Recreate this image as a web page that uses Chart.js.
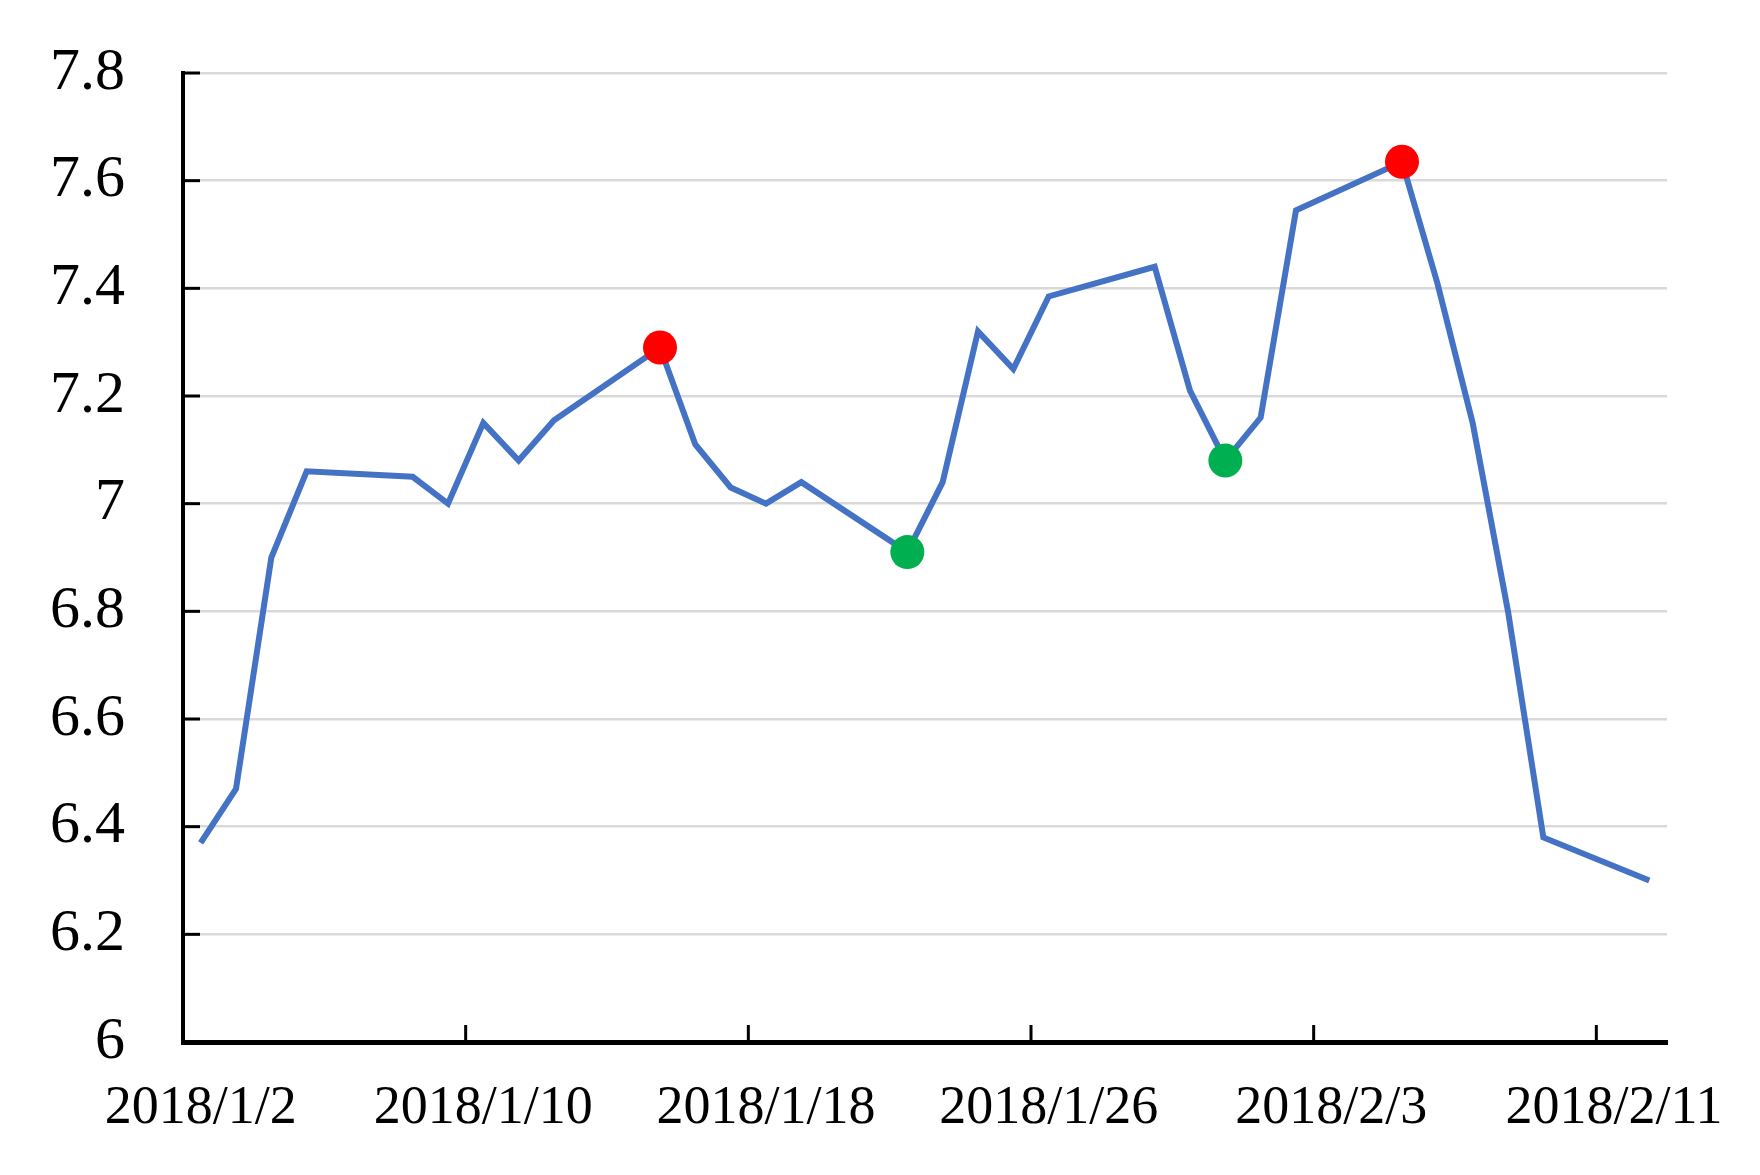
<!DOCTYPE html>
<html>
<head>
<meta charset="utf-8">
<script src="https://cdn.jsdelivr.net/npm/chart.js@4.4.1/dist/chart.umd.min.js"></script>
<style>
  html, body { margin: 0; padding: 0; background: #fff; }
</style>
</head>
<body>
<canvas id="chart" width="1760" height="1175"></canvas>
<script>
/* Daily series, 2018/1/2 - 2018/2/12, with highs (red) and lows (green) marked */

var startDate = '2018/1/2';
var dayCount = 42;

var dates = [
  '2018/1/2', '2018/1/3', '2018/1/4', '2018/1/5',
  '2018/1/8', '2018/1/9', '2018/1/10', '2018/1/11', '2018/1/12',
  '2018/1/15', '2018/1/16', '2018/1/17', '2018/1/18', '2018/1/19',
  '2018/1/22', '2018/1/23', '2018/1/24', '2018/1/25', '2018/1/26',
  '2018/1/29', '2018/1/30', '2018/1/31', '2018/2/1', '2018/2/2',
  '2018/2/5', '2018/2/6', '2018/2/7', '2018/2/8', '2018/2/9',
  '2018/2/12'
];
var values = [
  6.37, 6.47, 6.90, 7.06,
  7.05, 7.00, 7.15, 7.08, 7.155,
  7.29, 7.11, 7.03, 7.00, 7.04,
  6.91, 7.04, 7.32, 7.25, 7.385,
  7.44, 7.21, 7.08, 7.16, 7.545,
  7.635, 7.41, 7.15, 6.80, 6.38,
  6.30
];
var highDates = ['2018/1/15', '2018/2/5'];
var lowDates = ['2018/1/22', '2018/1/31'];

var yMin = 6;
var yMax = 7.8;
var yStep = 0.2;
var xStep = 8;

function parseDay(s) {
  var p = s.split('/');
  return Date.UTC(+p[0], +p[1] - 1, +p[2]);
}

function dayIndex(s) {
  return Math.round((parseDay(s) - parseDay(startDate)) / 86400000);
}

function dayLabel(i) {
  var d = new Date(parseDay(startDate) + i * 86400000);
  return d.getUTCFullYear() + '/' + (d.getUTCMonth() + 1) + '/' + d.getUTCDate();
}

var points = dates.map(function (d, i) {
  return { x: dayIndex(d) + 0.5, y: values[i] };
});
var pointColors = dates.map(function (d) {
  if (highDates.indexOf(d) >= 0) return '#ff0000';
  if (lowDates.indexOf(d) >= 0) return '#00b050';
  return '#4472c4';
});
var pointSizes = dates.map(function (d) {
  return highDates.indexOf(d) >= 0 || lowDates.indexOf(d) >= 0 ? 17 : 0;
});

// tick marks that point into the plot, like the original
var innerTicks = {
  id: 'innerTicks',
  beforeDatasetsDraw: function (chart) {
    var ctx = chart.ctx;
    var xs = chart.scales.x;
    var ys = chart.scales.y;
    var area = chart.chartArea;
    ctx.save();
    ctx.strokeStyle = '#000';
    ctx.lineWidth = 3;
    ys.ticks.forEach(function (t) {
      var py = ys.getPixelForValue(t.value);
      ctx.beginPath();
      ctx.moveTo(area.left, py);
      ctx.lineTo(area.left + 17, py);
      ctx.stroke();
    });
    xs.ticks.forEach(function (t) {
      var px = xs.getPixelForValue(t.value);
      ctx.beginPath();
      ctx.moveTo(px, area.bottom);
      ctx.lineTo(px, area.bottom - 17);
      ctx.stroke();
    });
    ctx.restore();
  }
};

Chart.defaults.font.family = "'Liberation Serif', 'Times New Roman', serif";
Chart.defaults.color = '#000';

new Chart(document.getElementById('chart'), {
  type: 'line',
  data: {
    datasets: [
      {
        data: points,
        borderColor: '#4472c4',
        borderWidth: 6,
        tension: 0,
        pointRadius: pointSizes,
        pointBackgroundColor: pointColors,
        pointBorderWidth: 0,
        pointHoverRadius: pointSizes
      }
    ]
  },
  options: {
    responsive: false,
    animation: false,
    layout: { padding: { top: 73, right: 93, left: 0, bottom: 0 } },
    plugins: { legend: { display: false }, tooltip: { enabled: false } },
    scales: {
      x: {
        type: 'linear',
        min: 0,
        max: dayCount,
        afterFit: function (s) {
          s.height = 133;
          s.paddingLeft = 0;
          s.paddingRight = 0;
        },
        grid: { display: false },
        border: { display: true, color: '#000', width: 5 },
        ticks: {
          stepSize: xStep,
          includeBounds: false,
          autoSkip: false,
          maxRotation: 0,
          labelOffset: 17.7,
          padding: 26,
          font: { size: 54 },
          callback: function (v) { return v % xStep === 0 ? dayLabel(v) : ''; }
        }
      },
      y: {
        min: yMin,
        max: yMax,
        afterFit: function (s) {
          s.width = 183;
          s.paddingTop = 0;
          s.paddingBottom = 0;
        },
        grid: { color: '#d9d9d9', lineWidth: 2.5, drawTicks: false },
        border: { display: true, color: '#000', width: 4 },
        ticks: {
          stepSize: yStep,
          padding: 58,
          font: { size: 60 },
          callback: function (v) { return String(Math.round(v * 10) / 10); }
        }
      }
    }
  },
  plugins: [innerTicks]
});
</script>
</body>
</html>
